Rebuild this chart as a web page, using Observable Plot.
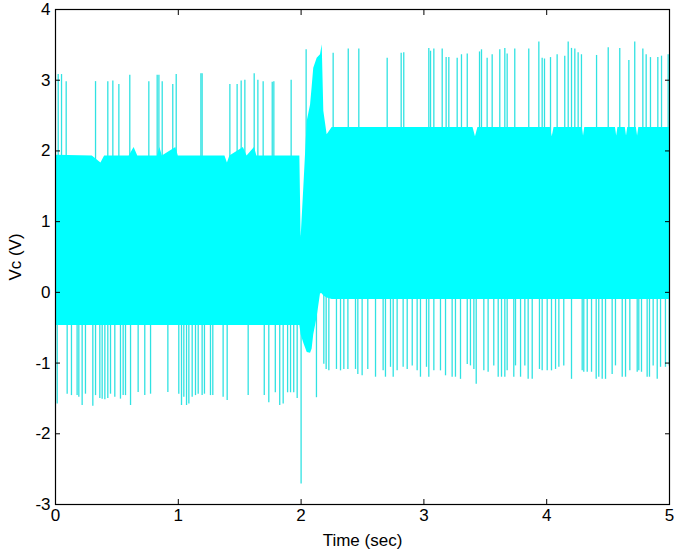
<!DOCTYPE html>
<html>
<head>
<meta charset="utf-8">
<script src="https://cdn.jsdelivr.net/npm/d3@7"></script>
<script src="https://cdn.jsdelivr.net/npm/@observablehq/plot@0.6"></script>
<style>
  html, body { margin: 0; padding: 0; background: #fff; }
</style>
</head>
<body>
<div id="chart"></div>
<script>
// Tick values
const xTicks = [0, 1, 2, 3, 4, 5];
const yTicks = [-3, -2, -1, 0, 1, 2, 3, 4];

// Dense oscillation envelope (time in s, lower/upper voltage)
const bandT  = [0, 0.30, 0.37, 0.40, 0.60, 0.64, 0.67, 0.83, 0.85, 0.87, 0.98, 1.00, 1.38, 1.40, 1.42, 1.53, 1.56, 1.62, 1.64, 1.99,
                2.00, 2.022, 2.05, 2.077, 2.09, 2.103, 2.131, 2.158, 2.172, 2.185, 2.212, 2.253,
                3.40, 3.42, 3.44, 4.03, 4.045, 4.06, 4.29, 4.30, 4.31, 4.56, 4.57, 4.58, 4.64, 4.65, 4.66, 4.73, 4.74, 4.75, 5.0];
const bandHi = [1.94, 1.93, 1.83, 1.93, 1.93, 2.05, 1.93, 1.93, 2.05, 1.93, 2.05, 1.93, 1.93, 1.83, 1.93, 2.05, 1.93, 2.05, 1.93, 1.93,
                0.77, 1.48, 2.42, 2.65, 2.90, 3.17, 3.31, 3.36, 3.50, 2.56, 2.23, 2.33,
                2.33, 2.20, 2.33, 2.33, 2.20, 2.33, 2.33, 2.21, 2.33, 2.33, 2.21, 2.33, 2.33, 2.21, 2.33, 2.33, 2.21, 2.33, 2.33];
const bandLo = [-0.47, -0.47, -0.47, -0.47, -0.47, -0.47, -0.47, -0.47, -0.47, -0.47, -0.47, -0.47, -0.47, -0.47, -0.47, -0.47, -0.47, -0.47, -0.47, -0.47,
                -0.60, -0.72, -0.85, -0.86, -0.80, -0.60, -0.35, -0.02, -0.02, -0.05, -0.08, -0.10,
                -0.10, -0.10, -0.10, -0.10, -0.10, -0.10, -0.10, -0.10, -0.10, -0.10, -0.10, -0.10, -0.10, -0.10, -0.10, -0.10, -0.10, -0.10, -0.10];

// Upward spikes (time, peak voltage)
const upT = [0.022,0.049,0.087,0.326,0.426,0.467,0.516,0.605,0.760,0.828,0.842,0.869,0.955,0.983,1.184,1.194,1.420,1.479,1.512,1.542,1.618,1.648,1.691,1.765,1.778,1.919,
             2.041,2.261,2.384,2.470,2.701,2.815,2.836,3.040,3.054,3.081,3.149,3.181,3.203,3.271,3.306,3.353,3.453,3.469,3.515,3.556,3.618,3.659,3.678,3.740,3.854,3.936,3.963,3.982,
             4.031,4.085,4.147,4.175,4.202,4.229,4.256,4.283,4.406,4.501,4.595,4.669,4.717,4.783,4.810,4.845,4.905,4.935,4.989];
const upV = [3.08,3.08,2.98,2.98,2.98,2.99,2.94,3.07,2.98,3.07,3.07,2.98,2.94,3.08,3.09,3.09,2.94,2.94,2.99,3.00,3.09,3.00,2.98,2.97,2.98,3.00,
             3.43,3.38,3.44,3.44,3.31,3.38,3.39,3.45,3.41,3.44,3.44,3.32,3.32,3.31,3.36,3.37,3.40,3.43,3.31,3.36,3.43,3.45,3.37,3.44,3.44,3.54,3.31,3.30,
             3.32,3.36,3.34,3.54,3.45,3.44,3.39,3.36,3.35,3.46,3.45,3.28,3.54,3.44,3.36,3.32,3.32,3.34,3.36];

// Downward spikes (time, trough voltage)
const dnT = [0.014,0.095,0.130,0.176,0.190,0.217,0.244,0.304,0.326,0.361,0.380,0.402,0.426,0.448,0.483,0.529,0.551,0.570,0.611,0.673,0.727,0.774,0.915,1.004,1.026,
             1.045,1.067,1.086,1.113,1.140,1.162,1.194,1.213,1.262,1.281,1.365,1.398,1.569,1.700,1.737,1.790,1.826,1.854,1.890,1.914,1.940,1.968,2.000,2.125,
             2.185,2.204,2.226,2.288,2.321,2.348,2.381,2.443,2.462,2.497,2.543,2.606,2.668,2.687,2.728,2.750,2.782,2.831,2.864,2.905,2.945,2.972,3.021,3.040,3.081,
             3.135,3.176,3.230,3.257,3.298,3.353,3.379,3.407,3.426,3.488,3.523,3.569,3.605,3.632,3.659,3.678,3.732,3.746,3.787,3.822,3.849,3.882,3.941,3.963,4.004,
             4.039,4.072,4.099,4.139,4.202,4.289,4.302,4.330,4.365,4.403,4.424,4.452,4.479,4.533,4.560,4.615,4.642,4.677,4.737,4.750,4.772,4.818,4.837,4.867,4.900,
             4.927,4.967,4.998];
const dnV = [-1.58,-1.44,-1.46,-1.46,-1.485,-1.60,-1.44,-1.61,-1.46,-1.50,-1.51,-1.52,-1.50,-1.44,-1.485,-1.51,-1.46,-1.46,-1.60,-1.415,-1.46,-1.44,-1.415,-1.44,-1.60,
             -1.485,-1.60,-1.58,-1.485,-1.46,-1.44,-1.46,-1.44,-1.46,-1.46,-1.485,-1.53,-1.46,-1.46,-1.56,-1.42,-1.60,-1.58,-1.42,-1.42,-1.42,-1.50,-2.71,-1.49,
             -1.015,-1.09,-1.11,-1.09,-1.11,-1.09,-1.09,-1.09,-1.16,-1.18,-1.09,-1.20,-1.11,-1.20,-1.06,-1.20,-1.11,-1.06,-1.09,-1.04,-1.11,-1.20,-1.06,-1.20,-1.11,
             -1.11,-1.18,-1.20,-1.20,-1.23,-1.02,-1.04,-1.09,-1.30,-1.11,-1.13,-1.04,-1.20,-1.20,-1.20,-1.11,-1.20,-1.04,-1.20,-1.04,-1.23,-1.23,-1.09,-1.11,-1.11,
             -1.11,-1.09,-1.06,-1.04,-1.23,-1.11,-1.13,-1.13,-1.13,-1.23,-1.20,-1.23,-1.23,-1.16,-1.04,-1.20,-1.20,-1.11,-1.13,-1.11,-1.13,-1.20,-1.20,-1.04,-1.23,
             -1.06,-1.06,-1.04];

const band = bandT.map((t, i) => ({t, lo: bandLo[i], hi: bandHi[i]}));
const ups = upT.map((t, i) => ({t, v: upV[i]}));
const dns = dnT.map((t, i) => ({t, v: dnV[i]}));

const CYAN = "#00ffff";
const SPIKE = "#30e2e2";
const FONT = "'Liberation Sans', Arial, Helvetica, sans-serif";

const chart = Plot.plot({
  width: 675,
  height: 551,
  marginLeft: 55,
  marginRight: 6,
  marginTop: 9,
  marginBottom: 47,
  style: {fontFamily: FONT, fontSize: "16px", color: "black", background: "white"},
  x: {domain: [0, 5], ticks: xTicks, label: null},
  y: {domain: [-3, 4], ticks: yTicks, label: null},
  marks: [
    Plot.ruleX(ups, {x: "t", y1: 0.8, y2: "v", stroke: SPIKE, strokeWidth: 1.3}),
    Plot.ruleX(dns, {x: "t", y1: 0.8, y2: "v", stroke: SPIKE, strokeWidth: 1.3}),
    Plot.areaY(band, {x: "t", y1: "lo", y2: "hi", fill: CYAN}),
    // tick labels
    Plot.axisX({anchor: "bottom", ticks: xTicks, tickSize: 0, tickPadding: 4, tickFormat: d => String(d), fontSize: 17,
                label: "Time (sec)", labelAnchor: "center", labelOffset: 41, labelArrow: "none"}),
    Plot.axisY({anchor: "left", ticks: yTicks, tickSize: 0, tickPadding: 5, tickFormat: d => String(d), fontSize: 17,
                label: "Vc (V)", labelAnchor: "center", labelOffset: 47, labelArrow: "none"}),
    // inward tick marks on all four sides
    Plot.axisX({anchor: "bottom", ticks: xTicks, tickSize: 5, dy: -5, text: null, label: null, stroke: "black"}),
    Plot.axisX({anchor: "top", ticks: xTicks, tickSize: 5, dy: 5, text: null, label: null, stroke: "black"}),
    Plot.axisY({anchor: "left", ticks: yTicks, tickSize: 5, dx: 5, text: null, label: null, stroke: "black"}),
    Plot.axisY({anchor: "right", ticks: yTicks, tickSize: 5, dx: -5, text: null, label: null, stroke: "black"}),
    Plot.frame({stroke: "black", strokeWidth: 1.2})
  ]
});
document.getElementById("chart").appendChild(chart);
</script>
</body>
</html>
